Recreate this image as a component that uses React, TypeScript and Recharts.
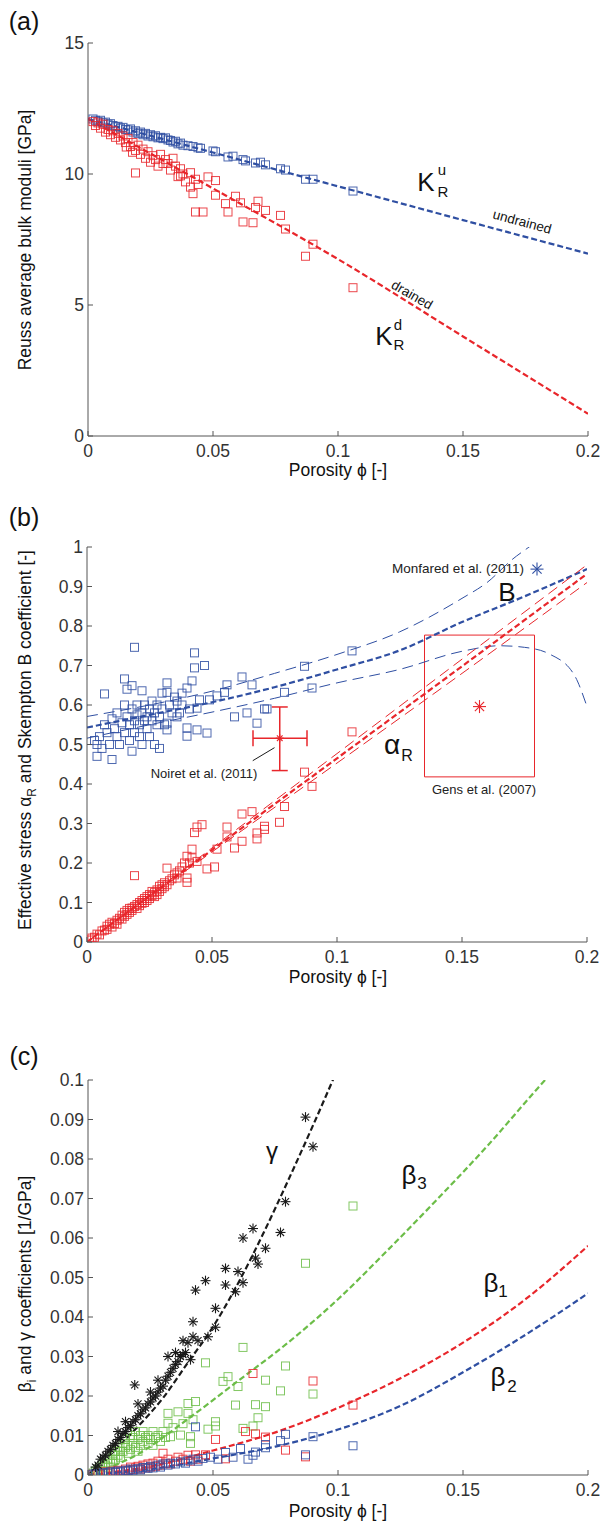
import React from "react";
import {
  ComposedChart,
  Scatter,
  Line,
  XAxis,
  YAxis,
  ReferenceArea,
  ReferenceLine,
  ErrorBar,
} from "recharts";

const FONT = '"Liberation Sans", Arial, Helvetica, sans-serif';
const AXIS = "#555";
const TICK_TXT = "#333";
const RED = "#e8262b";
const BLUE = "#2f4fa2";
const GREEN = "#6cbd48";
const BLACK = "#1a1a1a";

// shared x axis
const phiTicks = [0, 0.05, 0.1, 0.15, 0.2];

// ---------- panel (a): Reuss bulk moduli
const kTicks = [0, 5, 10, 15];
const kuA: number[][] = [
  [0.002, 12.1], [0.003, 12.05], [0.004, 12.0], [0.005, 12.05], [0.006, 11.95], [0.007, 11.98],
  [0.008, 11.9], [0.009, 11.92], [0.01, 11.85], [0.011, 11.8], [0.012, 11.82], [0.013, 11.75],
  [0.014, 11.78], [0.015, 11.7], [0.016, 11.68], [0.017, 11.72], [0.018, 11.6], [0.019, 11.65],
  [0.02, 11.55], [0.021, 11.6], [0.022, 11.5], [0.023, 11.55], [0.024, 11.45], [0.025, 11.5],
  [0.026, 11.42], [0.027, 11.46], [0.028, 11.38], [0.029, 11.4], [0.03, 11.35], [0.031, 11.38],
  [0.032, 11.3], [0.033, 11.28], [0.034, 11.22], [0.035, 11.25], [0.036, 11.15], [0.037, 11.18],
  [0.038, 11.1], [0.04, 11.08], [0.042, 11.05], [0.044, 11.0], [0.045, 10.98], [0.05, 10.88],
  [0.051, 10.85], [0.056, 10.65], [0.058, 10.68], [0.062, 10.55], [0.063, 10.5], [0.067, 10.42],
  [0.069, 10.45], [0.071, 10.35], [0.077, 10.2], [0.079, 10.15], [0.087, 9.8], [0.09, 9.8],
  [0.106, 9.35],
];
const kdA: number[][] = [
  [0.002, 12.0], [0.003, 11.85], [0.004, 11.95], [0.005, 11.75], [0.006, 11.9], [0.007, 11.6],
  [0.008, 11.7], [0.009, 11.5], [0.01, 11.65], [0.011, 11.4], [0.012, 11.55], [0.013, 11.3],
  [0.014, 11.45], [0.015, 11.2], [0.0153, 11.03], [0.016, 11.35], [0.017, 11.05], [0.018, 11.2],
  [0.0178, 10.83], [0.019, 10.04], [0.019, 10.9], [0.02, 11.1], [0.021, 10.75], [0.022, 10.95],
  [0.023, 10.6], [0.024, 10.85], [0.025, 10.45], [0.026, 10.7], [0.027, 10.55], [0.028, 10.3],
  [0.029, 10.75], [0.03, 10.4], [0.031, 10.55], [0.032, 10.4], [0.033, 10.15], [0.034, 10.6],
  [0.035, 10.3], [0.036, 9.9], [0.037, 10.2], [0.037, 9.93], [0.038, 10.0], [0.039, 9.7],
  [0.041, 10.05], [0.041, 9.5], [0.042, 9.25], [0.043, 9.8], [0.043, 8.55], [0.044, 9.6],
  [0.046, 8.55], [0.048, 9.89], [0.051, 9.75], [0.051, 9.19], [0.055, 8.87], [0.056, 8.55],
  [0.059, 9.15], [0.061, 8.9], [0.062, 8.17], [0.066, 8.14], [0.067, 8.72], [0.068, 8.96],
  [0.071, 8.61], [0.077, 8.42], [0.079, 7.9], [0.087, 6.86], [0.09, 7.32], [0.106, 5.66],
];
const fitPhiA = [0, 0.05, 0.1, 0.15, 0.2];
const kuFit = [12.1, 10.82, 9.53, 8.24, 6.96];
const kdFit = [12.1, 9.45, 6.75, 3.8, 0.85];

// ---------- panel (b): alpha and B
const coefTicks = [0, 0.1, 0.2, 0.3, 0.4, 0.5, 0.6, 0.7, 0.8, 0.9, 1];
const bPts: number[][] = [
  [0.003, 0.51], [0.004, 0.47], [0.004, 0.5], [0.005, 0.52], [0.006, 0.49], [0.007, 0.628],
  [0.007, 0.55], [0.008, 0.53], [0.009, 0.5], [0.01, 0.462], [0.01, 0.565], [0.011, 0.54],
  [0.012, 0.52], [0.012, 0.58], [0.013, 0.5], [0.014, 0.555], [0.015, 0.666], [0.015, 0.6],
  [0.015, 0.53], [0.016, 0.64], [0.016, 0.57], [0.017, 0.51], [0.017, 0.55], [0.018, 0.649],
  [0.018, 0.59], [0.018, 0.483], [0.019, 0.746], [0.019, 0.56], [0.019, 0.53], [0.02, 0.6],
  [0.02, 0.575], [0.021, 0.55], [0.021, 0.52], [0.022, 0.636], [0.022, 0.58], [0.022, 0.5],
  [0.023, 0.56], [0.023, 0.6], [0.024, 0.57], [0.024, 0.54], [0.025, 0.59], [0.025, 0.52],
  [0.026, 0.61], [0.026, 0.56], [0.027, 0.58], [0.027, 0.5], [0.028, 0.55], [0.028, 0.6],
  [0.029, 0.57], [0.029, 0.49], [0.03, 0.59], [0.03, 0.63], [0.031, 0.55], [0.032, 0.656],
  [0.032, 0.632], [0.032, 0.537], [0.032, 0.554], [0.033, 0.6], [0.034, 0.58], [0.035, 0.62],
  [0.036, 0.61], [0.036, 0.57], [0.037, 0.58], [0.038, 0.63], [0.038, 0.6], [0.04, 0.643],
  [0.04, 0.542], [0.04, 0.521], [0.041, 0.59], [0.042, 0.661], [0.043, 0.732], [0.043, 0.694],
  [0.044, 0.592], [0.044, 0.537], [0.045, 0.613], [0.047, 0.7], [0.048, 0.529], [0.049, 0.613],
  [0.052, 0.623], [0.055, 0.632], [0.056, 0.651], [0.059, 0.57], [0.062, 0.671], [0.064, 0.58],
  [0.066, 0.651], [0.068, 0.554], [0.071, 0.59], [0.072, 0.59], [0.079, 0.632], [0.087, 0.698],
  [0.09, 0.643], [0.106, 0.737],
];
const alphaPts: number[][] = [
  [0.001, 0.005], [0.002, 0.01], [0.003, 0.012], [0.004, 0.02], [0.005, 0.018], [0.006, 0.028],
  [0.007, 0.03], [0.008, 0.04], [0.008, 0.032], [0.009, 0.045], [0.01, 0.038], [0.01, 0.05],
  [0.011, 0.047], [0.012, 0.055], [0.012, 0.045], [0.013, 0.06], [0.014, 0.058], [0.014, 0.068],
  [0.015, 0.065], [0.015, 0.075], [0.016, 0.07], [0.016, 0.08], [0.017, 0.075], [0.017, 0.085],
  [0.018, 0.086], [0.018, 0.08], [0.019, 0.168], [0.019, 0.09], [0.02, 0.095], [0.02, 0.085],
  [0.021, 0.1], [0.021, 0.092], [0.022, 0.105], [0.022, 0.098], [0.023, 0.11], [0.023, 0.1],
  [0.024, 0.115], [0.024, 0.105], [0.025, 0.12], [0.025, 0.11], [0.026, 0.118], [0.026, 0.128],
  [0.027, 0.125], [0.027, 0.115], [0.028, 0.132], [0.028, 0.12], [0.029, 0.141], [0.029, 0.128],
  [0.03, 0.135], [0.03, 0.145], [0.031, 0.14], [0.031, 0.15], [0.032, 0.187], [0.032, 0.145],
  [0.033, 0.155], [0.034, 0.16], [0.035, 0.17], [0.036, 0.162], [0.036, 0.175], [0.037, 0.18],
  [0.038, 0.19], [0.039, 0.2], [0.04, 0.217], [0.04, 0.162], [0.04, 0.151], [0.041, 0.2],
  [0.042, 0.213], [0.042, 0.235], [0.043, 0.277], [0.044, 0.291], [0.044, 0.204], [0.046, 0.297],
  [0.048, 0.185], [0.051, 0.19], [0.052, 0.235], [0.056, 0.291], [0.056, 0.266], [0.059, 0.238],
  [0.062, 0.324], [0.062, 0.255], [0.066, 0.33], [0.068, 0.261], [0.068, 0.276], [0.071, 0.293],
  [0.071, 0.285], [0.077, 0.303], [0.079, 0.343], [0.087, 0.43], [0.09, 0.394], [0.106, 0.532],
];
const alphaPhi = [0, 0.05, 0.1, 0.15, 0.2];
const alphaFit = [0, 0.233, 0.465, 0.698, 0.932];
const alphaHi = [0, 0.238, 0.477, 0.716, 0.955];
const alphaLo = [0, 0.228, 0.453, 0.68, 0.91];
const bFitPhi = [0, 0.025, 0.05, 0.075, 0.1, 0.125, 0.15, 0.175, 0.2];
const bFit = [0.543, 0.575, 0.607, 0.645, 0.69, 0.738, 0.81, 0.875, 0.944];
const bHiPhi = [0, 0.025, 0.05, 0.075, 0.1, 0.125, 0.15, 0.16, 0.17, 0.18, 0.19];
const bHi = [0.571, 0.6, 0.635, 0.68, 0.728, 0.785, 0.87, 0.91, 0.968, 1.015, 1.07];
const bLoPhi = [0, 0.025, 0.05, 0.075, 0.1, 0.125, 0.15, 0.165, 0.175, 0.185, 0.195, 0.2];
const bLo = [0.516, 0.55, 0.582, 0.617, 0.656, 0.69, 0.736, 0.75, 0.746, 0.729, 0.675, 0.596];
const noiret = { x: 0.0771, y: 0.516, ex: [0.0107, 0.0109], ey: [0.082, 0.079] };
const gensBox = { x1: 0.135, x2: 0.179, y1: 0.418, y2: 0.777 };
const gensStar = [[0.157, 0.596]];
const monfaredStar = [[0.18, 0.944]];
const noiretLeader = [{ x: 0.0663, y: 0.459 }, { x: 0.075, y: 0.492 }];

// ---------- panel (c): beta and gamma
const betaTicks = [0, 0.01, 0.02, 0.03, 0.04, 0.05, 0.06, 0.07, 0.08, 0.09, 0.1];
const gammaPts: number[][] = [
  [0.003, 0.002], [0.004, 0.0025], [0.005, 0.004], [0.006, 0.0045], [0.007, 0.005], [0.008, 0.006],
  [0.009, 0.0065], [0.01, 0.0075], [0.011, 0.008], [0.012, 0.009], [0.012, 0.011], [0.013, 0.0095],
  [0.014, 0.0105], [0.015, 0.011], [0.015, 0.0135], [0.016, 0.012], [0.017, 0.0125], [0.018, 0.0135],
  [0.019, 0.014], [0.0187, 0.0228], [0.02, 0.015], [0.02, 0.018], [0.021, 0.0155], [0.022, 0.0165],
  [0.023, 0.017], [0.024, 0.018], [0.025, 0.0185], [0.025, 0.021], [0.026, 0.0195], [0.027, 0.02],
  [0.028, 0.021], [0.028, 0.024], [0.029, 0.022], [0.03, 0.0225], [0.031, 0.024], [0.032, 0.025],
  [0.032, 0.03], [0.033, 0.026], [0.034, 0.027], [0.035, 0.028], [0.035, 0.031], [0.036, 0.0287],
  [0.037, 0.03], [0.038, 0.0305], [0.038, 0.034], [0.039, 0.031], [0.04, 0.0335], [0.041, 0.0292],
  [0.042, 0.0388], [0.042, 0.035], [0.043, 0.0468], [0.044, 0.034], [0.047, 0.0492], [0.048, 0.035],
  [0.051, 0.0422], [0.051, 0.0374], [0.055, 0.0523], [0.055, 0.0481], [0.059, 0.0464], [0.06, 0.0515],
  [0.062, 0.0487], [0.062, 0.06], [0.066, 0.0624], [0.067, 0.0549], [0.068, 0.0534], [0.071, 0.0574],
  [0.077, 0.0614], [0.079, 0.0692], [0.087, 0.0906], [0.09, 0.0831],
];
const beta3Pts: number[][] = [
  [0.002, 0.0005], [0.003, 0.001], [0.004, 0.0015], [0.005, 0.002], [0.006, 0.001], [0.006, 0.003],
  [0.007, 0.0025], [0.008, 0.004], [0.008, 0.002], [0.009, 0.003], [0.01, 0.005], [0.01, 0.0035],
  [0.011, 0.006], [0.011, 0.004], [0.012, 0.005], [0.012, 0.007], [0.013, 0.006], [0.013, 0.0045],
  [0.014, 0.008], [0.014, 0.006], [0.015, 0.007], [0.015, 0.009], [0.016, 0.0055], [0.016, 0.0075],
  [0.017, 0.01], [0.017, 0.0065], [0.018, 0.008], [0.018, 0.0095], [0.019, 0.007], [0.019, 0.011],
  [0.02, 0.009], [0.02, 0.006], [0.021, 0.01], [0.021, 0.0075], [0.022, 0.0085], [0.022, 0.011],
  [0.023, 0.0095], [0.024, 0.008], [0.024, 0.01], [0.025, 0.009], [0.026, 0.011], [0.026, 0.0075],
  [0.027, 0.0095], [0.028, 0.01], [0.029, 0.0085], [0.03, 0.011], [0.031, 0.0095], [0.032, 0.0156],
  [0.032, 0.0131], [0.033, 0.0097], [0.034, 0.012], [0.036, 0.016], [0.037, 0.0101], [0.038, 0.013],
  [0.04, 0.0181], [0.04, 0.0156], [0.041, 0.0097], [0.041, 0.008], [0.042, 0.014], [0.043, 0.0186],
  [0.047, 0.0284], [0.048, 0.0116], [0.051, 0.0135], [0.051, 0.0124], [0.054, 0.0237], [0.056, 0.0249],
  [0.059, 0.0177], [0.06, 0.0224], [0.062, 0.0323], [0.062, 0.0118], [0.066, 0.0124], [0.067, 0.0178],
  [0.068, 0.0145], [0.071, 0.024], [0.071, 0.0173], [0.077, 0.0213], [0.079, 0.0276], [0.087, 0.0536],
  [0.09, 0.0205], [0.106, 0.0681],
];
const beta1Pts: number[][] = [
  [0.002, 0.0002], [0.004, 0.0005], [0.005, 0.0003], [0.007, 0.0008], [0.008, 0.0005], [0.01, 0.001],
  [0.011, 0.0007], [0.012, 0.0012], [0.014, 0.001], [0.015, 0.0015], [0.016, 0.0011], [0.017, 0.002],
  [0.018, 0.0014], [0.019, 0.0018], [0.02, 0.0022], [0.021, 0.0015], [0.022, 0.0025], [0.023, 0.0018],
  [0.024, 0.0028], [0.025, 0.002], [0.026, 0.003], [0.027, 0.0022], [0.028, 0.0035], [0.029, 0.0025],
  [0.03, 0.0055], [0.031, 0.003], [0.032, 0.004], [0.033, 0.0028], [0.035, 0.0035], [0.036, 0.0045],
  [0.038, 0.004], [0.04, 0.005], [0.041, 0.0035], [0.043, 0.0051], [0.044, 0.004], [0.047, 0.0051],
  [0.051, 0.009], [0.055, 0.0041], [0.063, 0.011], [0.066, 0.0257], [0.067, 0.0104], [0.071, 0.0096],
  [0.079, 0.0063], [0.087, 0.0046], [0.09, 0.0238], [0.106, 0.0177],
];
const beta2Pts: number[][] = [
  [0.002, 0.0002], [0.003, 0.0004], [0.005, 0.0003], [0.006, 0.0006], [0.008, 0.0005], [0.009, 0.0008],
  [0.011, 0.0007], [0.012, 0.001], [0.013, 0.0008], [0.015, 0.0012], [0.016, 0.001], [0.017, 0.0015],
  [0.018, 0.0012], [0.02, 0.0016], [0.021, 0.0013], [0.022, 0.0019], [0.024, 0.0017], [0.025, 0.0022],
  [0.026, 0.0018], [0.028, 0.0025], [0.029, 0.002], [0.03, 0.0028], [0.032, 0.0025], [0.033, 0.003],
  [0.035, 0.0028], [0.037, 0.0033], [0.039, 0.003], [0.04, 0.0036], [0.042, 0.004], [0.043, 0.0122],
  [0.044, 0.0035], [0.046, 0.0042], [0.049, 0.0045], [0.052, 0.004], [0.055, 0.0057], [0.058, 0.0045],
  [0.061, 0.0067], [0.064, 0.004], [0.066, 0.005], [0.067, 0.0058], [0.071, 0.0069], [0.071, 0.0077],
  [0.077, 0.0087], [0.079, 0.0103], [0.087, 0.0051], [0.09, 0.0097], [0.106, 0.0074],
];
const gammaPhi = [0, 0.01, 0.02, 0.03, 0.04, 0.05, 0.06, 0.07, 0.08, 0.09, 0.1];
const gammaFit = [0, 0.0058, 0.0123, 0.0195, 0.0285, 0.0375, 0.0485, 0.061, 0.0745, 0.0885, 0.103];
const beta3Phi = [0, 0.02, 0.04, 0.06, 0.08, 0.1, 0.12, 0.14, 0.16, 0.18, 0.19];
const beta3Fit = [0, 0.0053, 0.0142, 0.0238, 0.0335, 0.0445, 0.057, 0.07, 0.0835, 0.098, 0.105];
const betaPhi = [0, 0.025, 0.05, 0.075, 0.1, 0.125, 0.15, 0.175, 0.2];
const beta1Fit = [0, 0.0022, 0.0062, 0.0108, 0.017, 0.0245, 0.0335, 0.0445, 0.058];
const beta2Fit = [0, 0.0015, 0.0042, 0.0072, 0.0115, 0.0175, 0.026, 0.0355, 0.046];

const pts = (rows: number[][]) => rows.map(([x, y]) => ({ x, y }));
const curve = (xs: number[], ys: number[]) => xs.map((x, i) => ({ x, y: ys[i] }));

// ---------- ticks (MATLAB style, pointing inwards)
const BottomTick = (p: any) => (
  <g>
    <line x1={p.x} y1={p.y} x2={p.x} y2={p.y - 5} stroke={AXIS} />
    <text x={p.x} y={p.y + 21} textAnchor="middle" fontSize={17.5} fontFamily={FONT} fill={TICK_TXT}>
      {String(p.payload.value)}
    </text>
  </g>
);
const TopTick = (p: any) => <line x1={p.x} y1={p.y} x2={p.x} y2={p.y + 5} stroke={AXIS} />;
const LeftTick = (p: any) => (
  <g>
    <line x1={p.x} y1={p.y} x2={p.x + 5} y2={p.y} stroke={AXIS} />
    <text x={p.x - 4} y={p.y + 6} textAnchor="end" fontSize={17.5} fontFamily={FONT} fill={TICK_TXT}>
      {String(p.payload.value)}
    </text>
  </g>
);
const RightTick = (p: any) => <line x1={p.x} y1={p.y} x2={p.x - 5} y2={p.y} stroke={AXIS} />;

function frame(yTicks: number[], yDomain: number[], yWidth: number, xHeight: number) {
  return [
    <XAxis key="xb" type="number" dataKey="x" domain={[0, 0.2]} ticks={phiTicks} interval={0}
      height={xHeight} tickSize={0} tickMargin={0} tickLine={false} tick={<BottomTick />}
      axisLine={{ stroke: AXIS }} allowDataOverflow />,
    <XAxis key="xt" xAxisId="top" orientation="top" type="number" domain={[0, 0.2]} ticks={phiTicks}
      interval={0} height={0} tickSize={0} tickMargin={0} tickLine={false} tick={<TopTick />}
      axisLine={{ stroke: AXIS }} allowDataOverflow />,
    <YAxis key="yl" type="number" dataKey="y" domain={yDomain} ticks={yTicks} interval={0}
      width={yWidth} tickSize={0} tickMargin={0} tickLine={false} tick={<LeftTick />}
      axisLine={{ stroke: AXIS }} allowDataOverflow />,
    <YAxis key="yr" yAxisId="right" orientation="right" type="number" domain={yDomain} ticks={yTicks}
      interval={0} width={0} tickSize={0} tickMargin={0} tickLine={false} tick={<RightTick />}
      axisLine={{ stroke: AXIS }} allowDataOverflow />,
  ];
}

// ---------- markers
const square = (color: string) => (p: any) =>
  p.cx == null ? <g /> : (
    <rect x={p.cx - 4} y={p.cy - 4} width={8} height={8} fill="none" stroke={color}
      strokeWidth={1} strokeOpacity={0.85} />
  );
const star = (color: string, r: number) => (p: any) => {
  if (p.cx == null) return <g />;
  const d = r * 0.707;
  return (
    <g stroke={color} strokeWidth={1.1}>
      <line x1={p.cx - r} y1={p.cy} x2={p.cx + r} y2={p.cy} />
      <line x1={p.cx} y1={p.cy - r} x2={p.cx} y2={p.cy + r} />
      <line x1={p.cx - d} y1={p.cy - d} x2={p.cx + d} y2={p.cy + d} />
      <line x1={p.cx - d} y1={p.cy + d} x2={p.cx + d} y2={p.cy - d} />
    </g>
  );
};

const fitLine = (data: any[], color: string, thick = true) => (
  <Line data={data} dataKey="y" type="monotone" stroke={color} dot={false}
    strokeWidth={thick ? 2.2 : 1} strokeDasharray={thick ? "6 3" : "11 6"}
    isAnimationActive={false} activeDot={false} />
);

const Txt = ({ x, y, size = 17.5, rot = 0, color = "#111", children }: any) => (
  <div style={{
    position: "absolute", left: x, top: y, fontSize: size, color, lineHeight: 1,
    whiteSpace: "nowrap", transform: `translate(-50%, -50%) rotate(${rot}deg)`,
  }}>
    {children}
  </div>
);

const Sub = ({ children, size = 12, shift = 5 }: any) => (
  <span style={{ fontSize: size, position: "relative", top: shift }}>{children}</span>
);

export default function App() {
  return (
    <div style={{ position: "absolute", left: 0, top: 0, width: 601, height: 1526, background: "#fff", fontFamily: FONT }}>
      {/* (a) */}
      <div style={{ position: "absolute", left: 0, top: 0 }}>
        <ComposedChart width={601} height={500} margin={{ top: 43, right: 13, bottom: 0, left: 0 }}>
          {frame(kTicks, [0, 15], 88, 64)}
          <Scatter data={pts(kuA)} shape={square(BLUE)} isAnimationActive={false} />
          <Scatter data={pts(kdA)} shape={square(RED)} isAnimationActive={false} />
          {fitLine(curve(fitPhiA, kuFit), BLUE)}
          {fitLine(curve(fitPhiA, kdFit), RED)}
        </ComposedChart>
      </div>

      {/* (b) */}
      <div style={{ position: "absolute", left: 0, top: 500 }}>
        <ComposedChart width={601} height={500} margin={{ top: 47, right: 14, bottom: 0, left: 0 }}>
          {frame(coefTicks, [0, 1], 87, 58)}
          <ReferenceArea x1={gensBox.x1} x2={gensBox.x2} y1={gensBox.y1} y2={gensBox.y2}
            fill="none" stroke={RED} strokeWidth={1} />
          <Scatter data={pts(bPts)} shape={square(BLUE)} isAnimationActive={false} />
          <Scatter data={pts(alphaPts)} shape={square(RED)} isAnimationActive={false} />
          {fitLine(curve(bHiPhi, bHi), BLUE, false)}
          {fitLine(curve(bLoPhi, bLo), BLUE, false)}
          {fitLine(curve(bFitPhi, bFit), BLUE)}
          {fitLine(curve(alphaPhi, alphaHi), RED, false)}
          {fitLine(curve(alphaPhi, alphaLo), RED, false)}
          {fitLine(curve(alphaPhi, alphaFit), RED)}
          <Scatter data={[noiret]} shape={star(RED, 4)} isAnimationActive={false}>
            <ErrorBar dataKey="ex" direction="x" width={8} stroke={RED} strokeWidth={1.5} />
            <ErrorBar dataKey="ey" direction="y" width={8} stroke={RED} strokeWidth={1.5} />
          </Scatter>
          <Scatter data={pts(gensStar)} shape={star(RED, 6.5)} isAnimationActive={false} />
          <Scatter data={pts(monfaredStar)} shape={star(BLUE, 6.5)} isAnimationActive={false} />
          <ReferenceLine segment={noiretLeader} stroke={BLACK} strokeWidth={1} />
        </ComposedChart>
      </div>

      {/* (c) */}
      <div style={{ position: "absolute", left: 0, top: 1000 }}>
        <ComposedChart width={601} height={526} margin={{ top: 80, right: 13, bottom: 0, left: 0 }}>
          {frame(betaTicks, [0, 0.1], 88, 51)}
          <Scatter data={pts(beta3Pts)} shape={square(GREEN)} isAnimationActive={false} />
          <Scatter data={pts(beta1Pts)} shape={square(RED)} isAnimationActive={false} />
          <Scatter data={pts(beta2Pts)} shape={square(BLUE)} isAnimationActive={false} />
          <Scatter data={pts(gammaPts)} shape={star(BLACK, 5)} isAnimationActive={false} />
          {fitLine(curve(gammaPhi, gammaFit), BLACK)}
          {fitLine(curve(beta3Phi, beta3Fit), GREEN)}
          {fitLine(curve(betaPhi, beta1Fit), RED)}
          {fitLine(curve(betaPhi, beta2Fit), BLUE)}
        </ComposedChart>
      </div>

      {/* panel letters */}
      <Txt x={24} y={21} size={25}>(a)</Txt>
      <Txt x={24} y={517} size={25}>(b)</Txt>
      <Txt x={24} y={1056} size={25}>(c)</Txt>

      {/* axis labels */}
      <Txt x={26} y={240} rot={-90}>Reuss average bulk moduli [GPa]</Txt>
      <Txt x={338} y={471}>Porosity ϕ [-]</Txt>
      <Txt x={26} y={740} rot={-90}>
        Effective stress α<Sub>R</Sub> and Skempton B coefficient [-]
      </Txt>
      <Txt x={338} y={978}>Porosity ϕ [-]</Txt>
      <Txt x={26} y={1284} rot={-90}>
        β<Sub>i</Sub> and γ coefficients [1/GPa]
      </Txt>
      <Txt x={338} y={1512}>Porosity ϕ [-]</Txt>

      {/* annotations (a) */}
      <Txt x={426} y={182} size={26}>K</Txt>
      <Txt x={442} y={169} size={15}>u</Txt>
      <Txt x={443} y={191} size={15}>R</Txt>
      <Txt x={384} y={336} size={26}>K</Txt>
      <Txt x={398} y={324} size={15}>d</Txt>
      <Txt x={399} y={344} size={15}>R</Txt>
      <Txt x={522} y={222} size={13.5} rot={15}>undrained</Txt>
      <Txt x={412} y={295} size={13.5} rot={30}>drained</Txt>

      {/* annotations (b) */}
      <Txt x={458} y={569} size={13.5} color="#222">Monfared et al. (2011)</Txt>
      <Txt x={507} y={592} size={26}>B</Txt>
      <Txt x={392} y={745} size={28}>α</Txt>
      <Txt x={407} y={756} size={16}>R</Txt>
      <Txt x={484} y={789} size={13} color="#222">Gens et al. (2007)</Txt>
      <Txt x={204} y={773} size={13} color="#222">Noiret et al. (2011)</Txt>

      {/* annotations (c) */}
      <Txt x={272} y={1151} size={24}>γ</Txt>
      <Txt x={409} y={1175} size={26}>β</Txt>
      <Txt x={422} y={1183} size={17}>3</Txt>
      <Txt x={491} y={1283} size={26}>β</Txt>
      <Txt x={503} y={1291} size={17}>1</Txt>
      <Txt x={498} y={1377} size={26}>β</Txt>
      <Txt x={512} y={1386} size={17}>2</Txt>
    </div>
  );
}
